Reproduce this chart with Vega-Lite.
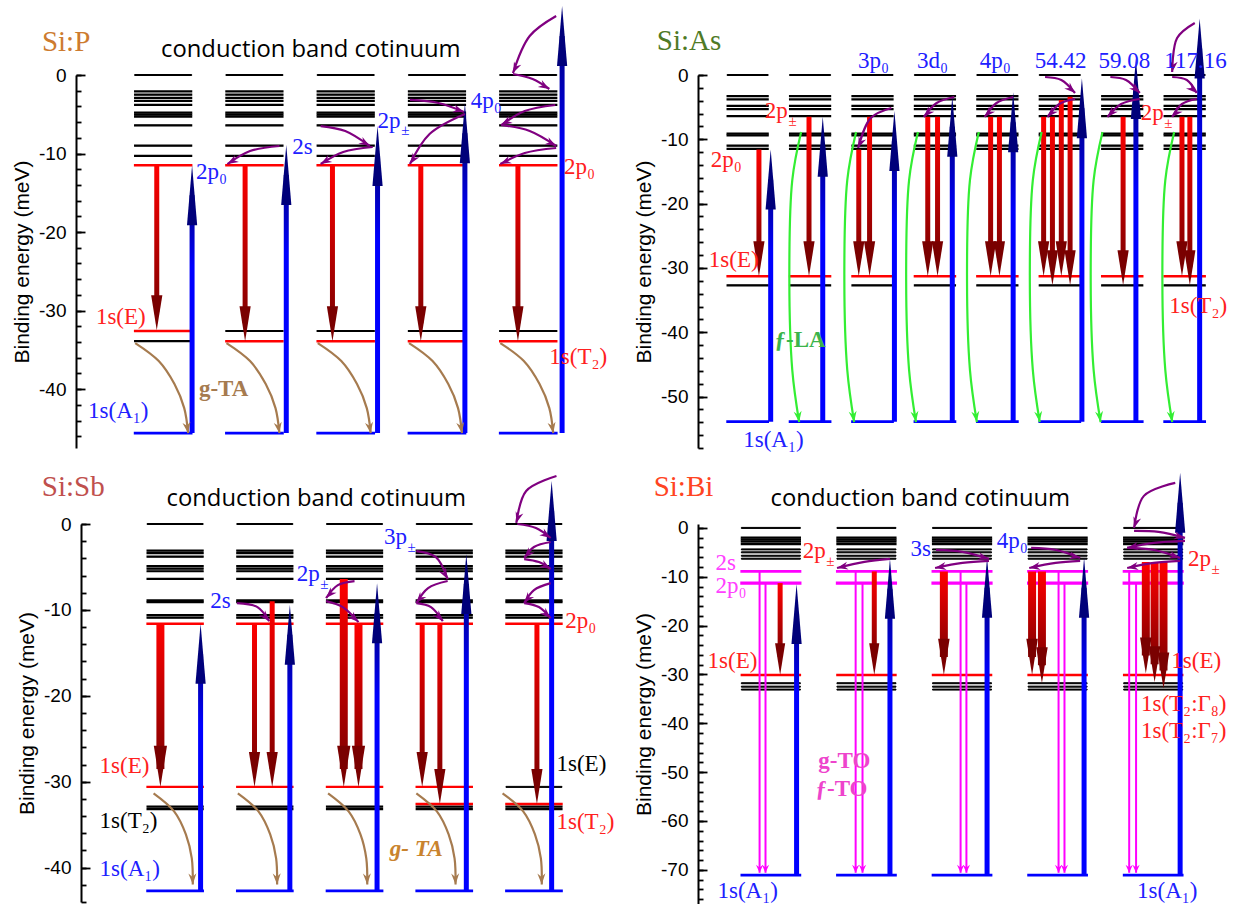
{
"$schema":"https://vega.github.io/schema/vega-lite/v6.json",
"background":"white",
"padding":{"left":11,"top":5,"right":0,"bottom":0},
"bounds":"flush",
"align":"none",
"columns":2,
"spacing":{"row":76,"column":107},
"config":{
 "view":{"stroke":null},
 "legend":{"disable":true},
 "axis":{"domainColor":"#000000","domainWidth":2,"tickColor":"#000000","tickWidth":1.8,"labelFont":"Liberation Sans","labelFontSize":19,"labelColor":"#000000","labelPadding":19,"titleFont":"Liberation Sans","titleFontSize":21,"titleFontWeight":"normal","titleColor":"#000000","titlePadding":6,"grid":false,"labelOverlap":false,"labelFlush":false,"labelBound":false}
},
"datasets":{
"levels":[
{"p":"P","e":0,"k":"top","c":[1,2,3,4,5]},
{"p":"P","e":-2.1,"k":"ex","c":[1,2,3,4,5]},
{"p":"P","e":-2.5,"k":"ex","c":[1,2,3,4,5]},
{"p":"P","e":-2.9,"k":"ex","c":[1,2,3,4,5]},
{"p":"P","e":-3.3,"k":"ex","c":[1,2,3,4,5]},
{"p":"P","e":-3.8,"k":"ex","c":[1,2,3,4,5]},
{"p":"P","e":-4.8,"k":"ex","c":[1,2,3,4,5]},
{"p":"P","e":-5.05,"k":"ex","c":[1,2,3,4,5]},
{"p":"P","e":-5.3,"k":"ex","c":[1,2,3,4,5]},
{"p":"P","e":-6.4,"k":"ex","c":[1,2,3,4,5]},
{"p":"P","e":-9.0,"k":"ex","c":[1,2,3,4,5]},
{"p":"P","e":-10.3,"k":"ex","c":[1,2,3,4,5]},
{"p":"P","e":-11.5,"k":"emit","c":[1,2,3,4,5]},
{"p":"P","e":-32.6,"k":"emit","c":[1]},
{"p":"P","e":-32.6,"k":"ex","c":[2,3,4,5]},
{"p":"P","e":-33.9,"k":"ex","c":[1]},
{"p":"P","e":-33.9,"k":"emit","c":[2,3,4,5]},
{"p":"P","e":-45.6,"k":"gnd","c":[1,2,3,4,5]},
{"p":"As","e":0,"k":"top","c":[1,2,3,4,5,6,7,8]},
{"p":"As","e":-3.3,"k":"ex","c":[1,2,3,4,5,6,7,8]},
{"p":"As","e":-3.8,"k":"ex","c":[1,2,3,4,5,6,7,8]},
{"p":"As","e":-4.8,"k":"ex","c":[1,2,3,4,5,6,7,8]},
{"p":"As","e":-5.3,"k":"ex","c":[1,2,3,4,5,6,7,8]},
{"p":"As","e":-6.4,"k":"ex","c":[1,2,3,4,5,6,7,8]},
{"p":"As","e":-9.1,"k":"ex","c":[1,2,3,4,5,6,7,8]},
{"p":"As","e":-9.4,"k":"ex","c":[1,2,3,4,5,6,7,8]},
{"p":"As","e":-11.0,"k":"ex","c":[1,2,3,4,5,6,7,8]},
{"p":"As","e":-11.5,"k":"ex","c":[1,2,3,4,5,6,7,8]},
{"p":"As","e":-31.3,"k":"emit","c":[1,2,3,4,5,6,7,8]},
{"p":"As","e":-32.7,"k":"ex","c":[1,2,3,4,5,6,7,8]},
{"p":"As","e":-53.9,"k":"gnd","c":[1,2,3,4,5,6,7,8]},
{"p":"Sb","e":0,"k":"top","c":[1,2,3,4,5]},
{"p":"Sb","e":-3.1,"k":"ex","c":[1,2,3,4,5]},
{"p":"Sb","e":-3.4,"k":"ex","c":[1,2,3,4,5]},
{"p":"Sb","e":-3.8,"k":"ex","c":[1,2,3,4,5]},
{"p":"Sb","e":-4.9,"k":"ex","c":[1,2,3,4,5]},
{"p":"Sb","e":-5.2,"k":"ex","c":[1,2,3,4,5]},
{"p":"Sb","e":-5.5,"k":"ex","c":[1,2,3,4,5]},
{"p":"Sb","e":-6.4,"k":"ex","c":[1,2,3,4,5]},
{"p":"Sb","e":-8.9,"k":"ex","c":[1,2,3,4,5]},
{"p":"Sb","e":-9.1,"k":"ex","c":[1,2,3,4,5]},
{"p":"Sb","e":-10.6,"k":"ex","c":[1,2,3,4,5]},
{"p":"Sb","e":-10.9,"k":"ex","c":[1,2,3,4,5]},
{"p":"Sb","e":-11.6,"k":"emit","c":[1,2,3,4,5]},
{"p":"Sb","e":-30.6,"k":"emit","c":[1,2,3,4]},
{"p":"Sb","e":-30.6,"k":"top","c":[5]},
{"p":"Sb","e":-32.9,"k":"ex","c":[1,2,3,4,5]},
{"p":"Sb","e":-33.2,"k":"ex","c":[1,2,3,4,5]},
{"p":"Sb","e":-32.6,"k":"emit","c":[4,5]},
{"p":"Sb","e":-42.7,"k":"gnd","c":[1,2,3,4,5]},
{"p":"Bi","e":0,"k":"top","c":[1,2,3,4,5]},
{"p":"Bi","e":-2.0,"k":"ex","c":[1,2,3,4,5]},
{"p":"Bi","e":-2.4,"k":"ex","c":[1,2,3,4,5]},
{"p":"Bi","e":-2.8,"k":"ex","c":[1,2,3,4,5]},
{"p":"Bi","e":-3.3,"k":"ex","c":[1,2,3,4,5]},
{"p":"Bi","e":-4.4,"k":"top","c":[1,2,3,4,5]},
{"p":"Bi","e":-5.0,"k":"top","c":[1,2,3,4,5]},
{"p":"Bi","e":-5.7,"k":"top","c":[1,2,3,4,5]},
{"p":"Bi","e":-6.3,"k":"top","c":[1,2,3,4,5]},
{"p":"Bi","e":-8.9,"k":"res2s","c":[1,2,3,4,5]},
{"p":"Bi","e":-11.3,"k":"res2p","c":[1,2,3,4,5]},
{"p":"Bi","e":-30.1,"k":"emit","c":[1,2,3,4,5]},
{"p":"Bi","e":-31.8,"k":"top","c":[1,2,3,4,5]},
{"p":"Bi","e":-32.5,"k":"top","c":[1,2,3,4,5]},
{"p":"Bi","e":-33.1,"k":"top","c":[1,2,3,4,5]},
{"p":"Bi","e":-71.1,"k":"gnd","c":[1,2,3,4,5]}
],
"arrows":[
{"p":"P","x":0.93,"y1":-11.5,"y2":-32.5,"t":"dn","w":"n"},
{"p":"P","x":1.317,"y1":-45.6,"y2":-11.5,"t":"up"},
{"p":"P","x":1.898,"y1":-11.5,"y2":-33.9,"t":"dn","w":"n"},
{"p":"P","x":2.349,"y1":-45.6,"y2":-8.9,"t":"up"},
{"p":"P","x":2.855,"y1":-11.5,"y2":-33.9,"t":"dn","w":"n"},
{"p":"P","x":3.349,"y1":-45.6,"y2":-6.5,"t":"up"},
{"p":"P","x":3.823,"y1":-11.5,"y2":-33.9,"t":"dn","w":"n"},
{"p":"P","x":4.306,"y1":-45.6,"y2":-3.6,"t":"up"},
{"p":"P","x":4.887,"y1":-11.5,"y2":-33.9,"t":"dn","w":"n"},
{"p":"P","x":5.371,"y1":-45.6,"y2":8.8,"t":"up"},
{"p":"As","x":1.181,"y1":-11.6,"y2":-31.3,"t":"dn","w":"n"},
{"p":"As","x":1.369,"y1":-53.9,"y2":-11.6,"t":"up"},
{"p":"As","x":1.983,"y1":-6.5,"y2":-31.3,"t":"dn","w":"n"},
{"p":"As","x":2.203,"y1":-53.9,"y2":-6.5,"t":"up"},
{"p":"As","x":2.78,"y1":-11.6,"y2":-31.3,"t":"dn","w":"n"},
{"p":"As","x":2.953,"y1":-6.5,"y2":-31.3,"t":"dn","w":"n"},
{"p":"As","x":3.351,"y1":-53.9,"y2":-5.6,"t":"up"},
{"p":"As","x":3.885,"y1":-6.5,"y2":-31.3,"t":"dn","w":"n"},
{"p":"As","x":4.042,"y1":-6.5,"y2":-31.3,"t":"dn","w":"n"},
{"p":"As","x":4.278,"y1":-53.9,"y2":-3.4,"t":"up"},
{"p":"As","x":4.892,"y1":-6.5,"y2":-31.3,"t":"dn","w":"n"},
{"p":"As","x":5.033,"y1":-6.5,"y2":-31.3,"t":"dn","w":"n"},
{"p":"As","x":5.253,"y1":-53.9,"y2":-2.7,"t":"up"},
{"p":"As","x":5.741,"y1":-6.5,"y2":-31.3,"t":"dn","w":"n"},
{"p":"As","x":5.882,"y1":-6.5,"y2":-32.7,"t":"dn","w":"n"},
{"p":"As","x":6.024,"y1":-3.9,"y2":-31.3,"t":"dn","w":"n"},
{"p":"As","x":6.165,"y1":-3.4,"y2":-32.7,"t":"dn","w":"n"},
{"p":"As","x":6.354,"y1":-53.9,"y2":-0.5,"t":"up"},
{"p":"As","x":7.014,"y1":-6.5,"y2":-32.7,"t":"dn","w":"n"},
{"p":"As","x":7.219,"y1":-53.9,"y2":2.5,"t":"up"},
{"p":"As","x":7.957,"y1":-6.5,"y2":-31.3,"t":"dn","w":"n"},
{"p":"As","x":8.083,"y1":-6.5,"y2":-32.7,"t":"dn","w":"n"},
{"p":"As","x":8.24,"y1":-53.9,"y2":8.8,"t":"up"},
{"p":"Sb","x":0.836,"y1":-11.6,"y2":-30.6,"t":"dn","w":"b"},
{"p":"Sb","x":1.284,"y1":-42.7,"y2":-11.6,"t":"up"},
{"p":"Sb","x":1.885,"y1":-11.6,"y2":-30.6,"t":"dn","w":"n"},
{"p":"Sb","x":2.082,"y1":-9.0,"y2":-30.6,"t":"dn","w":"n"},
{"p":"Sb","x":2.279,"y1":-42.7,"y2":-9.4,"t":"up"},
{"p":"Sb","x":2.88,"y1":-6.4,"y2":-30.6,"t":"dn","w":"b"},
{"p":"Sb","x":3.044,"y1":-11.6,"y2":-30.6,"t":"dn","w":"b"},
{"p":"Sb","x":3.251,"y1":-42.7,"y2":-6.9,"t":"up"},
{"p":"Sb","x":3.754,"y1":-11.6,"y2":-30.6,"t":"dn","w":"n"},
{"p":"Sb","x":3.951,"y1":-11.6,"y2":-32.6,"t":"dn","w":"n"},
{"p":"Sb","x":4.246,"y1":-42.7,"y2":-3.5,"t":"up"},
{"p":"Sb","x":5.033,"y1":-11.6,"y2":-32.6,"t":"dn","w":"n"},
{"p":"Sb","x":5.197,"y1":-42.7,"y2":5.0,"t":"up"},
{"p":"Bi","x":0.882,"y1":-8.9,"y2":-70.6,"t":"mg"},
{"p":"Bi","x":0.944,"y1":-11.3,"y2":-70.6,"t":"mg"},
{"p":"Bi","x":1.097,"y1":-11.3,"y2":-30.1,"t":"dn","w":"n"},
{"p":"Bi","x":1.269,"y1":-71.1,"y2":-11.5,"t":"up"},
{"p":"Bi","x":1.887,"y1":-8.9,"y2":-70.6,"t":"mg"},
{"p":"Bi","x":1.959,"y1":-11.3,"y2":-70.6,"t":"mg"},
{"p":"Bi","x":2.082,"y1":-8.9,"y2":-30.1,"t":"dn","w":"n"},
{"p":"Bi","x":2.246,"y1":-71.1,"y2":-6.3,"t":"up"},
{"p":"Bi","x":2.81,"y1":-8.9,"y2":-30.1,"t":"dn","w":"b"},
{"p":"Bi","x":2.985,"y1":-8.9,"y2":-70.6,"t":"mg"},
{"p":"Bi","x":3.046,"y1":-11.3,"y2":-70.6,"t":"mg"},
{"p":"Bi","x":3.262,"y1":-71.1,"y2":-6.1,"t":"up"},
{"p":"Bi","x":3.733,"y1":-8.9,"y2":-30.1,"t":"dn","w":"b"},
{"p":"Bi","x":3.836,"y1":-8.9,"y2":-31.8,"t":"dn","w":"b"},
{"p":"Bi","x":4.01,"y1":-8.9,"y2":-70.6,"t":"mg"},
{"p":"Bi","x":4.072,"y1":-11.3,"y2":-70.6,"t":"mg"},
{"p":"Bi","x":4.277,"y1":-71.1,"y2":-6.1,"t":"up"},
{"p":"Bi","x":4.749,"y1":-8.9,"y2":-70.6,"t":"mg"},
{"p":"Bi","x":4.821,"y1":-11.3,"y2":-70.6,"t":"mg"},
{"p":"Bi","x":4.923,"y1":-7.0,"y2":-29.8,"t":"dn","w":"b"},
{"p":"Bi","x":5.015,"y1":-7.0,"y2":-31.6,"t":"dn","w":"b"},
{"p":"Bi","x":5.108,"y1":-7.0,"y2":-32.9,"t":"dn","w":"b"},
{"p":"Bi","x":5.282,"y1":-71.1,"y2":11.3,"t":"up"}
],
"curves":[
{"p":"P","id":"b1","i":0,"x":0.694,"y":-34.14,"k":"br"},{"p":"P","id":"b1","i":1,"x":0.952,"y":-36.43,"k":"br"},{"p":"P","id":"b1","i":2,"x":1.124,"y":-39.36,"k":"br"},{"p":"P","id":"b1","i":3,"x":1.231,"y":-42.42,"k":"br"},{"p":"P","id":"b1","i":4,"x":1.274,"y":-45.61,"k":"br","a":171},
{"p":"P","id":"b2","i":0,"x":1.694,"y":-34.14,"k":"br"},{"p":"P","id":"b2","i":1,"x":1.952,"y":-36.43,"k":"br"},{"p":"P","id":"b2","i":2,"x":2.124,"y":-39.36,"k":"br"},{"p":"P","id":"b2","i":3,"x":2.231,"y":-42.42,"k":"br"},{"p":"P","id":"b2","i":4,"x":2.274,"y":-45.61,"k":"br","a":171},
{"p":"P","id":"b3","i":0,"x":2.694,"y":-34.14,"k":"br"},{"p":"P","id":"b3","i":1,"x":2.952,"y":-36.43,"k":"br"},{"p":"P","id":"b3","i":2,"x":3.124,"y":-39.36,"k":"br"},{"p":"P","id":"b3","i":3,"x":3.231,"y":-42.42,"k":"br"},{"p":"P","id":"b3","i":4,"x":3.274,"y":-45.61,"k":"br","a":171},
{"p":"P","id":"b4","i":0,"x":3.694,"y":-34.14,"k":"br"},{"p":"P","id":"b4","i":1,"x":3.952,"y":-36.43,"k":"br"},{"p":"P","id":"b4","i":2,"x":4.124,"y":-39.36,"k":"br"},{"p":"P","id":"b4","i":3,"x":4.231,"y":-42.42,"k":"br"},{"p":"P","id":"b4","i":4,"x":4.274,"y":-45.61,"k":"br","a":171},
{"p":"P","id":"b5","i":0,"x":4.694,"y":-34.14,"k":"br"},{"p":"P","id":"b5","i":1,"x":4.952,"y":-36.43,"k":"br"},{"p":"P","id":"b5","i":2,"x":5.124,"y":-39.36,"k":"br"},{"p":"P","id":"b5","i":3,"x":5.231,"y":-42.42,"k":"br"},{"p":"P","id":"b5","i":4,"x":5.274,"y":-45.61,"k":"br","a":171},
{"p":"P","id":"pa","i":0,"x":2.274,"y":-9.04,"k":"pu"},{"p":"P","id":"pa","i":1,"x":1.952,"y":-9.68,"k":"pu"},{"p":"P","id":"pa","i":2,"x":1.704,"y":-11.34,"k":"pu","a":240},
{"p":"P","id":"pb","i":0,"x":2.726,"y":-6.5,"k":"pu"},{"p":"P","id":"pb","i":1,"x":2.995,"y":-7.13,"k":"pu"},{"p":"P","id":"pb","i":2,"x":3.264,"y":-9.04,"k":"pu","a":121},
{"p":"P","id":"pc","i":0,"x":3.296,"y":-9.17,"k":"pu"},{"p":"P","id":"pc","i":1,"x":2.973,"y":-9.81,"k":"pu"},{"p":"P","id":"pc","i":2,"x":2.726,"y":-11.34,"k":"pu","a":240},
{"p":"P","id":"pd","i":0,"x":3.704,"y":-3.18,"k":"pu"},{"p":"P","id":"pd","i":1,"x":4.016,"y":-3.57,"k":"pu"},{"p":"P","id":"pd","i":2,"x":4.296,"y":-4.71,"k":"pu","a":109},
{"p":"P","id":"pe","i":0,"x":4.306,"y":-4.97,"k":"pu"},{"p":"P","id":"pe","i":1,"x":3.919,"y":-7.52,"k":"pu"},{"p":"P","id":"pe","i":2,"x":3.704,"y":-11.34,"k":"pu","a":214},
{"p":"P","id":"pf","i":0,"x":5.306,"y":7.52,"k":"pu"},{"p":"P","id":"pf","i":1,"x":5.016,"y":4.97,"k":"pu"},{"p":"P","id":"pf","i":2,"x":4.833,"y":0.25,"k":"pu","a":205},
{"p":"P","id":"pg","i":0,"x":4.833,"y":0.13,"k":"pu"},{"p":"P","id":"pg","i":1,"x":5.048,"y":-0.51,"k":"pu"},{"p":"P","id":"pg","i":2,"x":5.231,"y":-1.78,"k":"pu","a":120},
{"p":"P","id":"ph","i":0,"x":5.296,"y":-3.82,"k":"pu"},{"p":"P","id":"ph","i":1,"x":4.962,"y":-4.59,"k":"pu"},{"p":"P","id":"ph","i":2,"x":4.704,"y":-6.37,"k":"pu","a":240},
{"p":"P","id":"pi","i":0,"x":4.704,"y":-6.37,"k":"pu"},{"p":"P","id":"pi","i":1,"x":5.016,"y":-7.13,"k":"pu"},{"p":"P","id":"pi","i":2,"x":5.306,"y":-9.04,"k":"pu","a":119},
{"p":"P","id":"pj","i":0,"x":5.306,"y":-9.3,"k":"pu"},{"p":"P","id":"pj","i":1,"x":4.962,"y":-9.94,"k":"pu"},{"p":"P","id":"pj","i":2,"x":4.694,"y":-11.34,"k":"pu","a":246},
{"p":"As","id":"g2","i":0,"x":1.857,"y":-8.86,"k":"gr"},{"p":"As","id":"g2","i":1,"x":1.715,"y":-16.33,"k":"gr"},{"p":"As","id":"g2","i":2,"x":1.668,"y":-31.88,"k":"gr"},{"p":"As","id":"g2","i":3,"x":1.715,"y":-45.88,"k":"gr"},{"p":"As","id":"g2","i":4,"x":1.825,"y":-53.97,"k":"gr","a":172},
{"p":"As","id":"g3","i":0,"x":2.737,"y":-8.86,"k":"gr"},{"p":"As","id":"g3","i":1,"x":2.596,"y":-16.33,"k":"gr"},{"p":"As","id":"g3","i":2,"x":2.549,"y":-31.88,"k":"gr"},{"p":"As","id":"g3","i":3,"x":2.596,"y":-45.88,"k":"gr"},{"p":"As","id":"g3","i":4,"x":2.706,"y":-53.97,"k":"gr","a":172},
{"p":"As","id":"g4","i":0,"x":3.728,"y":-8.86,"k":"gr"},{"p":"As","id":"g4","i":1,"x":3.586,"y":-16.33,"k":"gr"},{"p":"As","id":"g4","i":2,"x":3.539,"y":-31.88,"k":"gr"},{"p":"As","id":"g4","i":3,"x":3.586,"y":-45.88,"k":"gr"},{"p":"As","id":"g4","i":4,"x":3.696,"y":-53.97,"k":"gr","a":172},
{"p":"As","id":"g5","i":0,"x":4.703,"y":-8.86,"k":"gr"},{"p":"As","id":"g5","i":1,"x":4.561,"y":-16.33,"k":"gr"},{"p":"As","id":"g5","i":2,"x":4.514,"y":-31.88,"k":"gr"},{"p":"As","id":"g5","i":3,"x":4.561,"y":-45.88,"k":"gr"},{"p":"As","id":"g5","i":4,"x":4.671,"y":-53.97,"k":"gr","a":172},
{"p":"As","id":"g6","i":0,"x":5.709,"y":-8.86,"k":"gr"},{"p":"As","id":"g6","i":1,"x":5.568,"y":-16.33,"k":"gr"},{"p":"As","id":"g6","i":2,"x":5.52,"y":-31.88,"k":"gr"},{"p":"As","id":"g6","i":3,"x":5.568,"y":-45.88,"k":"gr"},{"p":"As","id":"g6","i":4,"x":5.678,"y":-53.97,"k":"gr","a":172},
{"p":"As","id":"g7","i":0,"x":6.684,"y":-8.86,"k":"gr"},{"p":"As","id":"g7","i":1,"x":6.542,"y":-16.33,"k":"gr"},{"p":"As","id":"g7","i":2,"x":6.495,"y":-31.88,"k":"gr"},{"p":"As","id":"g7","i":3,"x":6.542,"y":-45.88,"k":"gr"},{"p":"As","id":"g7","i":4,"x":6.653,"y":-53.97,"k":"gr","a":172},
{"p":"As","id":"g8","i":0,"x":7.832,"y":-8.86,"k":"gr"},{"p":"As","id":"g8","i":1,"x":7.69,"y":-16.33,"k":"gr"},{"p":"As","id":"g8","i":2,"x":7.643,"y":-31.88,"k":"gr"},{"p":"As","id":"g8","i":3,"x":7.69,"y":-45.88,"k":"gr"},{"p":"As","id":"g8","i":4,"x":7.8,"y":-53.97,"k":"gr","a":172},
{"p":"As","id":"q3","i":0,"x":3.302,"y":-5.13,"k":"pu"},{"p":"As","id":"q3","i":1,"x":2.972,"y":-6.69,"k":"pu"},{"p":"As","id":"q3","i":2,"x":2.769,"y":-11.35,"k":"pu","a":203},
{"p":"As","id":"q4","i":0,"x":4.31,"y":-3.42,"k":"pu"},{"p":"As","id":"q4","i":1,"x":4.027,"y":-4.35,"k":"pu"},{"p":"As","id":"q4","i":2,"x":3.823,"y":-6.53,"k":"pu","a":223},
{"p":"As","id":"q5","i":0,"x":5.253,"y":-3.42,"k":"pu"},{"p":"As","id":"q5","i":1,"x":4.986,"y":-4.35,"k":"pu"},{"p":"As","id":"q5","i":2,"x":4.797,"y":-6.53,"k":"pu","a":223},
{"p":"As","id":"q6a","i":0,"x":5.764,"y":-0.31,"k":"pu"},{"p":"As","id":"q6a","i":1,"x":6.024,"y":-0.78,"k":"pu"},{"p":"As","id":"q6a","i":2,"x":6.244,"y":-2.8,"k":"pu","a":133},
{"p":"As","id":"q6b","i":0,"x":6.244,"y":-3.73,"k":"pu"},{"p":"As","id":"q6b","i":1,"x":5.992,"y":-4.51,"k":"pu"},{"p":"As","id":"q6b","i":2,"x":5.803,"y":-6.53,"k":"pu","a":223},
{"p":"As","id":"q7a","i":0,"x":6.81,"y":-0.31,"k":"pu"},{"p":"As","id":"q7a","i":1,"x":7.061,"y":-0.78,"k":"pu"},{"p":"As","id":"q7a","i":2,"x":7.281,"y":-2.8,"k":"pu","a":133},
{"p":"As","id":"q7b","i":0,"x":7.281,"y":-3.73,"k":"pu"},{"p":"As","id":"q7b","i":1,"x":6.983,"y":-4.51,"k":"pu"},{"p":"As","id":"q7b","i":2,"x":6.763,"y":-6.53,"k":"pu","a":223},
{"p":"As","id":"q8","i":0,"x":8.162,"y":8.09,"k":"pu"},{"p":"As","id":"q8","i":1,"x":7.879,"y":5.75,"k":"pu"},{"p":"As","id":"q8","i":2,"x":7.8,"y":0.47,"k":"pu","a":188},
{"p":"As","id":"q8a","i":0,"x":7.8,"y":-0.31,"k":"pu"},{"p":"As","id":"q8a","i":1,"x":8.035,"y":-0.78,"k":"pu"},{"p":"As","id":"q8a","i":2,"x":8.193,"y":-2.8,"k":"pu","a":133},
{"p":"As","id":"q8b","i":0,"x":8.193,"y":-3.73,"k":"pu"},{"p":"As","id":"q8b","i":1,"x":7.957,"y":-4.51,"k":"pu"},{"p":"As","id":"q8b","i":2,"x":7.8,"y":-6.53,"k":"pu","a":223},
{"p":"Sb","id":"s1","i":0,"x":0.76,"y":-31.35,"k":"br"},{"p":"Sb","id":"s1","i":1,"x":0.989,"y":-33.45,"k":"br"},{"p":"Sb","id":"s1","i":2,"x":1.12,"y":-36.13,"k":"br"},{"p":"Sb","id":"s1","i":3,"x":1.186,"y":-38.93,"k":"br"},{"p":"Sb","id":"s1","i":4,"x":1.197,"y":-41.96,"k":"br","a":178},
{"p":"Sb","id":"s2","i":0,"x":1.699,"y":-31.35,"k":"br"},{"p":"Sb","id":"s2","i":1,"x":1.929,"y":-33.45,"k":"br"},{"p":"Sb","id":"s2","i":2,"x":2.06,"y":-36.13,"k":"br"},{"p":"Sb","id":"s2","i":3,"x":2.126,"y":-38.93,"k":"br"},{"p":"Sb","id":"s2","i":4,"x":2.137,"y":-41.96,"k":"br","a":178},
{"p":"Sb","id":"s3","i":0,"x":2.705,"y":-31.35,"k":"br"},{"p":"Sb","id":"s3","i":1,"x":2.934,"y":-33.45,"k":"br"},{"p":"Sb","id":"s3","i":2,"x":3.066,"y":-36.13,"k":"br"},{"p":"Sb","id":"s3","i":3,"x":3.131,"y":-38.93,"k":"br"},{"p":"Sb","id":"s3","i":4,"x":3.142,"y":-41.96,"k":"br","a":178},
{"p":"Sb","id":"s4","i":0,"x":3.689,"y":-31.35,"k":"br"},{"p":"Sb","id":"s4","i":1,"x":3.918,"y":-33.45,"k":"br"},{"p":"Sb","id":"s4","i":2,"x":4.049,"y":-36.13,"k":"br"},{"p":"Sb","id":"s4","i":3,"x":4.115,"y":-38.93,"k":"br"},{"p":"Sb","id":"s4","i":4,"x":4.126,"y":-41.96,"k":"br","a":178},
{"p":"Sb","id":"s5","i":0,"x":4.65,"y":-31.35,"k":"br"},{"p":"Sb","id":"s5","i":1,"x":4.88,"y":-33.45,"k":"br"},{"p":"Sb","id":"s5","i":2,"x":5.011,"y":-36.13,"k":"br"},{"p":"Sb","id":"s5","i":3,"x":5.077,"y":-38.93,"k":"br"},{"p":"Sb","id":"s5","i":4,"x":5.087,"y":-41.96,"k":"br","a":178},
{"p":"Sb","id":"r2","i":0,"x":1.689,"y":-9.21,"k":"pu"},{"p":"Sb","id":"r2","i":1,"x":1.918,"y":-9.67,"k":"pu"},{"p":"Sb","id":"r2","i":2,"x":2.049,"y":-11.31,"k":"pu","a":139},
{"p":"Sb","id":"r3a","i":0,"x":3.0,"y":-6.64,"k":"pu"},{"p":"Sb","id":"r3a","i":1,"x":2.814,"y":-7.11,"k":"pu"},{"p":"Sb","id":"r3a","i":2,"x":2.683,"y":-8.62,"k":"pu","a":223},
{"p":"Sb","id":"r3b","i":0,"x":2.683,"y":-8.97,"k":"pu"},{"p":"Sb","id":"r3b","i":1,"x":2.869,"y":-9.67,"k":"pu"},{"p":"Sb","id":"r3b","i":2,"x":3.044,"y":-11.42,"k":"pu","a":133},
{"p":"Sb","id":"r4a","i":0,"x":3.689,"y":-3.15,"k":"pu"},{"p":"Sb","id":"r4a","i":1,"x":3.907,"y":-3.85,"k":"pu"},{"p":"Sb","id":"r4a","i":2,"x":4.038,"y":-6.41,"k":"pu","a":151},
{"p":"Sb","id":"r4b","i":0,"x":4.038,"y":-6.64,"k":"pu"},{"p":"Sb","id":"r4b","i":1,"x":3.82,"y":-7.46,"k":"pu"},{"p":"Sb","id":"r4b","i":2,"x":3.689,"y":-9.21,"k":"pu","a":219},
{"p":"Sb","id":"r4c","i":0,"x":3.689,"y":-9.21,"k":"pu"},{"p":"Sb","id":"r4c","i":1,"x":3.852,"y":-9.67,"k":"pu"},{"p":"Sb","id":"r4c","i":2,"x":3.984,"y":-11.31,"k":"pu","a":139},
{"p":"Sb","id":"r5a","i":0,"x":5.251,"y":5.59,"k":"pu"},{"p":"Sb","id":"r5a","i":1,"x":4.913,"y":3.85,"k":"pu"},{"p":"Sb","id":"r5a","i":2,"x":4.803,"y":0.12,"k":"pu","a":197},
{"p":"Sb","id":"r5b","i":0,"x":4.814,"y":0.0,"k":"pu"},{"p":"Sb","id":"r5b","i":1,"x":5.022,"y":-0.47,"k":"pu"},{"p":"Sb","id":"r5b","i":2,"x":5.186,"y":-1.63,"k":"pu","a":124},
{"p":"Sb","id":"r5c","i":0,"x":5.186,"y":-2.1,"k":"pu"},{"p":"Sb","id":"r5c","i":1,"x":5.0,"y":-2.68,"k":"pu"},{"p":"Sb","id":"r5c","i":2,"x":4.891,"y":-3.96,"k":"pu","a":222},
{"p":"Sb","id":"r5d","i":0,"x":4.891,"y":-4.08,"k":"pu"},{"p":"Sb","id":"r5d","i":1,"x":5.055,"y":-4.43,"k":"pu"},{"p":"Sb","id":"r5d","i":2,"x":5.186,"y":-5.24,"k":"pu","a":120},
{"p":"Sb","id":"r5e","i":0,"x":5.186,"y":-6.88,"k":"pu"},{"p":"Sb","id":"r5e","i":1,"x":5.0,"y":-7.69,"k":"pu"},{"p":"Sb","id":"r5e","i":2,"x":4.891,"y":-9.21,"k":"pu","a":218},
{"p":"Sb","id":"r5f","i":0,"x":4.891,"y":-9.21,"k":"pu"},{"p":"Sb","id":"r5f","i":1,"x":5.055,"y":-9.67,"k":"pu"},{"p":"Sb","id":"r5f","i":2,"x":5.186,"y":-10.96,"k":"pu","a":133},
{"p":"Bi","id":"t2","i":0,"x":2.246,"y":-6.35,"k":"pu"},{"p":"Bi","id":"t2","i":1,"x":1.979,"y":-6.97,"k":"pu"},{"p":"Bi","id":"t2","i":2,"x":1.692,"y":-8.2,"k":"pu","a":258},
{"p":"Bi","id":"t3a","i":0,"x":2.728,"y":-4.51,"k":"pu"},{"p":"Bi","id":"t3a","i":1,"x":3.005,"y":-4.92,"k":"pu"},{"p":"Bi","id":"t3a","i":2,"x":3.282,"y":-6.35,"k":"pu","a":105},
{"p":"Bi","id":"t3b","i":0,"x":3.282,"y":-6.76,"k":"pu"},{"p":"Bi","id":"t3b","i":1,"x":3.005,"y":-7.17,"k":"pu"},{"p":"Bi","id":"t3b","i":2,"x":2.718,"y":-8.2,"k":"pu","a":260},
{"p":"Bi","id":"t4a","i":0,"x":3.723,"y":-4.1,"k":"pu"},{"p":"Bi","id":"t4a","i":1,"x":3.979,"y":-4.51,"k":"pu"},{"p":"Bi","id":"t4a","i":2,"x":4.236,"y":-6.15,"k":"pu","a":104},
{"p":"Bi","id":"t4b","i":0,"x":4.236,"y":-6.76,"k":"pu"},{"p":"Bi","id":"t4b","i":1,"x":3.979,"y":-7.17,"k":"pu"},{"p":"Bi","id":"t4b","i":2,"x":3.703,"y":-8.2,"k":"pu","a":260},
{"p":"Bi","id":"t5a","i":0,"x":5.231,"y":9.22,"k":"pu"},{"p":"Bi","id":"t5a","i":1,"x":4.903,"y":6.56,"k":"pu"},{"p":"Bi","id":"t5a","i":2,"x":4.8,"y":0.0,"k":"pu","a":197},
{"p":"Bi","id":"t5b","i":0,"x":4.8,"y":-0.61,"k":"pu"},{"p":"Bi","id":"t5b","i":1,"x":5.056,"y":-0.82,"k":"pu"},{"p":"Bi","id":"t5b","i":2,"x":5.333,"y":-2.05,"k":"pu","a":103},
{"p":"Bi","id":"t5c","i":0,"x":5.333,"y":-2.66,"k":"pu"},{"p":"Bi","id":"t5c","i":1,"x":5.005,"y":-3.07,"k":"pu"},{"p":"Bi","id":"t5c","i":2,"x":4.728,"y":-4.1,"k":"pu","a":260},
{"p":"Bi","id":"t5d","i":0,"x":4.728,"y":-4.1,"k":"pu"},{"p":"Bi","id":"t5d","i":1,"x":5.005,"y":-4.51,"k":"pu"},{"p":"Bi","id":"t5d","i":2,"x":5.282,"y":-6.15,"k":"pu","a":107},
{"p":"Bi","id":"t5e","i":0,"x":5.282,"y":-6.76,"k":"pu"},{"p":"Bi","id":"t5e","i":1,"x":5.005,"y":-7.17,"k":"pu"},{"p":"Bi","id":"t5e","i":2,"x":4.728,"y":-8.2,"k":"pu","a":260}
],
"labels":[
{"p":"P","x":-0.328,"y":3.06,"t":"Si:P","k":"tP","s":"title"},
{"p":"P","x":2.618,"y":2.29,"t":"conduction band cotinuum","k":"bk","s":"sans"},
{"p":"P","x":1.36,"y":-13.25,"t":"2p₀","k":"bl","s":"lab"},
{"p":"P","x":2.414,"y":-10.06,"t":"2s","k":"bl","s":"lab"},
{"p":"P","x":3.349,"y":-6.75,"t":"2p","k":"bl","s":"lab"},
{"p":"P","x":3.608,"y":-7.64,"t":"±","k":"bl","s":"sub"},
{"p":"P","x":4.371,"y":-4.2,"t":"4p₀","k":"bl","s":"lab"},
{"p":"P","x":5.392,"y":-12.61,"t":"2p₀","k":"rd","s":"lab"},
{"p":"P","x":5.231,"y":-36.82,"t":"1s(T₂)","k":"rd","s":"lab"},
{"p":"P","x":0.263,"y":-31.72,"t":"1s(E)","k":"rd","s":"lab"},
{"p":"P","x":0.177,"y":-43.69,"t":"1s(A₁)","k":"bl","s":"lab"},
{"p":"P","x":1.392,"y":-40.89,"t":"g-TA","k":"br","s":"bold"},
{"p":"As","x":-0.454,"y":3.89,"t":"Si:As","k":"tAs","s":"title"},
{"p":"As","x":2.769,"y":1.09,"t":"3p₀","k":"bl","s":"lab"},
{"p":"As","x":3.712,"y":1.09,"t":"3d₀","k":"bl","s":"lab"},
{"p":"As","x":4.719,"y":1.09,"t":"4p₀","k":"bl","s":"lab"},
{"p":"As","x":5.599,"y":1.09,"t":"54.42","k":"bl","s":"lab"},
{"p":"As","x":6.621,"y":1.09,"t":"59.08","k":"bl","s":"lab"},
{"p":"As","x":7.675,"y":1.09,"t":"117.16","k":"bl","s":"lab"},
{"p":"As","x":1.275,"y":-6.69,"t":"2p","k":"rd","s":"lab"},
{"p":"As","x":1.653,"y":-7.93,"t":"±","k":"rd","s":"sub"},
{"p":"As","x":0.41,"y":-14.31,"t":"2p₀","k":"rd","s":"lab"},
{"p":"As","x":0.379,"y":-29.86,"t":"1s(E)","k":"rd","s":"lab"},
{"p":"As","x":7.753,"y":-37.01,"t":"1s(T₂)","k":"rd","s":"lab"},
{"p":"As","x":7.297,"y":-7.0,"t":"2p","k":"rd","s":"lab"},
{"p":"As","x":7.675,"y":-8.24,"t":"±","k":"rd","s":"sub"},
{"p":"As","x":1.432,"y":-42.3,"t":"ƒ-LA","k":"gt","s":"bold"},
{"p":"As","x":0.929,"y":-57.85,"t":"1s(A₁)","k":"bl","s":"lab"},
{"p":"Sb","x":-0.486,"y":3.26,"t":"Si:Sb","k":"tSb","s":"title"},
{"p":"Sb","x":2.574,"y":2.1,"t":"conduction band cotinuum","k":"bk","s":"sans"},
{"p":"Sb","x":1.393,"y":-9.79,"t":"2s","k":"bl","s":"lab"},
{"p":"Sb","x":2.355,"y":-6.64,"t":"2p","k":"bl","s":"lab"},
{"p":"Sb","x":2.617,"y":-7.58,"t":"±","k":"bl","s":"sub"},
{"p":"Sb","x":3.328,"y":-2.33,"t":"3p","k":"bl","s":"lab"},
{"p":"Sb","x":3.59,"y":-3.26,"t":"±","k":"bl","s":"sub"},
{"p":"Sb","x":5.35,"y":-12.12,"t":"2p₀","k":"rd","s":"lab"},
{"p":"Sb","x":5.251,"y":-28.79,"t":"1s(E)","k":"bk","s":"lab"},
{"p":"Sb","x":5.251,"y":-35.55,"t":"1s(T₂)","k":"rd","s":"lab"},
{"p":"Sb","x":0.158,"y":-29.02,"t":"1s(E)","k":"rd","s":"lab"},
{"p":"Sb","x":0.158,"y":-35.43,"t":"1s(T₂)","k":"bk","s":"lab"},
{"p":"Sb","x":0.158,"y":-41.03,"t":"1s(A₁)","k":"bl","s":"lab"},
{"p":"Sb","x":3.393,"y":-38.69,"t":"g- TA","k":"or","s":"bold"},
{"p":"Bi","x":-0.226,"y":6.56,"t":"Si:Bi","k":"tBi","s":"title"},
{"p":"Bi","x":2.564,"y":4.51,"t":"conduction band cotinuum","k":"bk","s":"sans"},
{"p":"Bi","x":0.421,"y":-8.6,"t":"2s","k":"mg","s":"lab"},
{"p":"Bi","x":0.421,"y":-13.3,"t":"2p₀","k":"mg","s":"lab"},
{"p":"Bi","x":0.338,"y":-28.69,"t":"1s(E)","k":"rd","s":"lab"},
{"p":"Bi","x":0.441,"y":-75.82,"t":"1s(A₁)","k":"bl","s":"lab"},
{"p":"Bi","x":1.333,"y":-6.15,"t":"2p","k":"rd","s":"lab"},
{"p":"Bi","x":1.579,"y":-7.79,"t":"±","k":"rd","s":"sub"},
{"p":"Bi","x":2.462,"y":-5.74,"t":"3s","k":"bl","s":"lab"},
{"p":"Bi","x":3.364,"y":-4.1,"t":"4p₀","k":"bl","s":"lab"},
{"p":"Bi","x":5.364,"y":-7.79,"t":"2p","k":"rd","s":"lab"},
{"p":"Bi","x":5.61,"y":-9.43,"t":"±","k":"rd","s":"sub"},
{"p":"Bi","x":5.19,"y":-28.69,"t":"1s(E)","k":"rd","s":"lab"},
{"p":"Bi","x":4.872,"y":-37.5,"t":"1s(T₂:Γ₈)","k":"rd","s":"lab"},
{"p":"Bi","x":4.872,"y":-43.03,"t":"1s(T₂:Γ₇)","k":"rd","s":"lab"},
{"p":"Bi","x":4.831,"y":-75.82,"t":"1s(A₁)","k":"bl","s":"lab"},
{"p":"Bi","x":1.497,"y":-49.18,"t":"g-TO","k":"mt","s":"bold"},
{"p":"Bi","x":1.467,"y":-54.92,"t":"ƒ-TO","k":"mt","s":"bold"}
]
},
"concat":[
{"width":512,"height":373,"resolve":{"scale":{"size":"independent"},"axis":{"y":"independent"}},"layer":[
{"data":{"name":"levels"},"transform":[{"filter":"datum.p==='P'"},{"flatten":["c"]}],"mark":{"type":"tick","orient":"horizontal","size":57,"thickness":1,"opacity":1},
 "encoding":{"x":{"field":"c","type":"quantitative","scale":{"domain":[0.1,5.6],"nice":false,"zero":false},"axis":null},
 "y":{"field":"e","type":"quantitative","scale":{"domain":[-47.5,0],"nice":false,"zero":false},"axis":{"values":[0,-10,-20,-30,-40],"title":"Binding energy (meV)","labelExpr":"datum.value < 0 ? '-' + abs(datum.value) : '0'","tickSize":-9,"labelOverlap":false}},
 "color":{"field":"k","type":"nominal","scale":{"domain":["top","ex","emit","gnd","res2s","res2p","bl","rd","bk","mg","br","gr","or","pu","tP","tAs","tSb","tBi","gt","mt"],"range":["#000000","#000000","#ff0000","#0000ff","#ff00ff","#ff00ff","#2020ff","#ff2020","#000000","#ff40ff","#a67b4f","#33ee33","#c9832e","#800080","#cd7b2f","#4f7a26","#c0504d","#ff4422","#3cb44b","#ee44cc"]}},
 "stroke":{"field":"k","type":"nominal","scale":{"domain":["top","ex","emit","gnd","res2s","res2p"],"range":["#000000","#000000","#ff0000","#0000ff","#ff00ff","#ff00ff"]}},
 "strokeWidth":{"field":"k","type":"ordinal","scale":{"domain":["top","ex","emit","gnd","res2s","res2p"],"range":[1,2.2,1.5,2,3,5]}}}},
{"data":{"name":"arrows"},"transform":[{"filter":"datum.p==='P' && datum.t==='dn'"}],"mark":{"type":"bar","y2Offset":-18,"fill":{"gradient":"linear","x1":0,"y1":0,"x2":0,"y2":1,"stops":[{"offset":0,"color":"#ff0000"},{"offset":1,"color":"#800000"}]}},
 "encoding":{"x":{"field":"x","type":"quantitative","axis":null},"y":{"field":"y1","type":"quantitative","axis":null},"y2":{"field":"y2"},"size":{"field":"w","type":"ordinal","scale":{"domain":["n","b"],"range":[5,8]}}}},
{"data":{"name":"arrows"},"transform":[{"filter":"datum.p==='P' && datum.t==='dn'"}],"mark":{"type":"point","filled":true,"opacity":1,"shape":"M0,0L-0.32,-2L0.32,-2Z","fill":"#7a0000","strokeWidth":0},
 "encoding":{"x":{"field":"x","type":"quantitative","axis":null},"y":{"field":"y2","type":"quantitative","axis":null},"size":{"field":"w","type":"ordinal","scale":{"domain":["n","b"],"range":[1225,1700]}}}},
{"data":{"name":"arrows"},"transform":[{"filter":"datum.p==='P' && datum.t==='up'"}],"mark":{"type":"bar","width":5,"y2Offset":30,"fill":{"gradient":"linear","x1":0,"y1":0,"x2":0,"y2":1,"stops":[{"offset":0,"color":"#000080"},{"offset":0.3,"color":"#0000ff"},{"offset":1,"color":"#0000ff"}]}},
 "encoding":{"x":{"field":"x","type":"quantitative","axis":null},"y":{"field":"y1","type":"quantitative","axis":null},"y2":{"field":"y2"}}},
{"data":{"name":"arrows"},"transform":[{"filter":"datum.p==='P' && datum.t==='up'"}],"mark":{"type":"point","filled":true,"opacity":1,"shape":"M0,0L-0.17,2L0.17,2Z","fill":"#00007a","strokeWidth":0,"size":3600},
 "encoding":{"x":{"field":"x","type":"quantitative","axis":null},"y":{"field":"y2","type":"quantitative","axis":{"orient":"right","offset":-512,"values":[0,-2,-4,-6,-8,-10,-12,-14,-16,-18,-20,-22,-24,-26,-28,-30,-32,-34,-36,-38,-40,-42,-44,-46],"labels":false,"domain":false,"ticks":true,"tickSize":5,"title":null}}}},
{"data":{"name":"curves"},"transform":[{"filter":"datum.p==='P'"}],"mark":{"type":"line","interpolate":"catmull-rom","strokeWidth":2.2},
 "encoding":{"x":{"field":"x","type":"quantitative","axis":null},"y":{"field":"y","type":"quantitative","axis":null},"detail":{"field":"id"},"order":{"field":"i","type":"quantitative"},
 "color":{"field":"k","type":"nominal","scale":{"domain":["top","ex","emit","gnd","res2s","res2p","bl","rd","bk","mg","br","gr","or","pu","tP","tAs","tSb","tBi","gt","mt"],"range":["#000000","#000000","#ff0000","#0000ff","#ff00ff","#ff00ff","#2020ff","#ff2020","#000000","#ff40ff","#a67b4f","#33ee33","#c9832e","#800080","#cd7b2f","#4f7a26","#c0504d","#ff4422","#3cb44b","#ee44cc"]}}}},
{"data":{"name":"curves"},"transform":[{"filter":"datum.p==='P' && isValid(datum.a)"}],"mark":{"type":"point","filled":true,"opacity":1,"shape":"M0,0L-0.8,2.2L0,1.5L0.8,2.2Z","size":100,"strokeWidth":0},
 "encoding":{"x":{"field":"x","type":"quantitative","axis":null},"y":{"field":"y","type":"quantitative","axis":null},"angle":{"field":"a","type":"quantitative","scale":{"domain":[0,360],"range":[0,360]}},
 "color":{"field":"k","type":"nominal","scale":{"domain":["top","ex","emit","gnd","res2s","res2p","bl","rd","bk","mg","br","gr","or","pu","tP","tAs","tSb","tBi","gt","mt"],"range":["#000000","#000000","#ff0000","#0000ff","#ff00ff","#ff00ff","#2020ff","#ff2020","#000000","#ff40ff","#a67b4f","#33ee33","#c9832e","#800080","#cd7b2f","#4f7a26","#c0504d","#ff4422","#3cb44b","#ee44cc"]}}}},
{"data":{"name":"labels"},"transform":[{"filter":"datum.p==='P' && datum.s==='lab'"}],"mark":{"type":"text","align":"left","baseline":"alphabetic","font":"Liberation Serif","fontSize":23},
 "encoding":{"x":{"field":"x","type":"quantitative","axis":null},"y":{"field":"y","type":"quantitative","axis":null},"text":{"field":"t"},
 "color":{"field":"k","type":"nominal","scale":{"domain":["top","ex","emit","gnd","res2s","res2p","bl","rd","bk","mg","br","gr","or","pu","tP","tAs","tSb","tBi","gt","mt"],"range":["#000000","#000000","#ff0000","#0000ff","#ff00ff","#ff00ff","#2020ff","#ff2020","#000000","#ff40ff","#a67b4f","#33ee33","#c9832e","#800080","#cd7b2f","#4f7a26","#c0504d","#ff4422","#3cb44b","#ee44cc"]}}}},
{"data":{"name":"labels"},"transform":[{"filter":"datum.p==='P' && datum.s==='sub'"}],"mark":{"type":"text","align":"left","baseline":"alphabetic","font":"Liberation Serif","fontSize":15},
 "encoding":{"x":{"field":"x","type":"quantitative","axis":null},"y":{"field":"y","type":"quantitative","axis":null},"text":{"field":"t"},
 "color":{"field":"k","type":"nominal","scale":{"domain":["top","ex","emit","gnd","res2s","res2p","bl","rd","bk","mg","br","gr","or","pu","tP","tAs","tSb","tBi","gt","mt"],"range":["#000000","#000000","#ff0000","#0000ff","#ff00ff","#ff00ff","#2020ff","#ff2020","#000000","#ff40ff","#a67b4f","#33ee33","#c9832e","#800080","#cd7b2f","#4f7a26","#c0504d","#ff4422","#3cb44b","#ee44cc"]}}}},
{"data":{"name":"labels"},"transform":[{"filter":"datum.p==='P' && datum.s==='bold'"}],"mark":{"type":"text","align":"left","baseline":"alphabetic","font":"Liberation Serif","fontSize":23,"fontWeight":"bold"},
 "encoding":{"x":{"field":"x","type":"quantitative","axis":null},"y":{"field":"y","type":"quantitative","axis":null},"text":{"field":"t"},
 "color":{"field":"k","type":"nominal","scale":{"domain":["top","ex","emit","gnd","res2s","res2p","bl","rd","bk","mg","br","gr","or","pu","tP","tAs","tSb","tBi","gt","mt"],"range":["#000000","#000000","#ff0000","#0000ff","#ff00ff","#ff00ff","#2020ff","#ff2020","#000000","#ff40ff","#a67b4f","#33ee33","#c9832e","#800080","#cd7b2f","#4f7a26","#c0504d","#ff4422","#3cb44b","#ee44cc"]}}}},
{"data":{"name":"labels"},"transform":[{"filter":"datum.p==='P' && datum.s==='title'"}],"mark":{"type":"text","align":"left","baseline":"alphabetic","font":"Liberation Serif","fontSize":29},
 "encoding":{"x":{"field":"x","type":"quantitative","axis":null},"y":{"field":"y","type":"quantitative","axis":null},"text":{"field":"t"},
 "color":{"field":"k","type":"nominal","scale":{"domain":["top","ex","emit","gnd","res2s","res2p","bl","rd","bk","mg","br","gr","or","pu","tP","tAs","tSb","tBi","gt","mt"],"range":["#000000","#000000","#ff0000","#0000ff","#ff00ff","#ff00ff","#2020ff","#ff2020","#000000","#ff40ff","#a67b4f","#33ee33","#c9832e","#800080","#cd7b2f","#4f7a26","#c0504d","#ff4422","#3cb44b","#ee44cc"]}}}},
{"data":{"name":"labels"},"transform":[{"filter":"datum.p==='P' && datum.s==='sans'"}],"mark":{"type":"text","align":"center","baseline":"alphabetic","font":"Open Sans","fontSize":23.8,"color":"#000000"},
 "encoding":{"x":{"field":"x","type":"quantitative","axis":null},"y":{"field":"y","type":"quantitative","axis":null},"text":{"field":"t"}}}
]},
{"width":526,"height":373,"resolve":{"scale":{"size":"independent"},"axis":{"y":"independent"}},"layer":[
{"data":{"name":"levels"},"transform":[{"filter":"datum.p==='As'"},{"flatten":["c"]}],"mark":{"type":"tick","orient":"horizontal","size":41,"thickness":1,"opacity":1},
 "encoding":{"x":{"field":"c","type":"quantitative","scale":{"domain":[0.285,8.55],"nice":false,"zero":false},"axis":null},
 "y":{"field":"e","type":"quantitative","scale":{"domain":[-58,0],"nice":false,"zero":false},"axis":{"values":[0,-10,-20,-30,-40,-50],"title":"Binding energy (meV)","labelExpr":"datum.value < 0 ? '-' + abs(datum.value) : '0'","tickSize":-9,"labelOverlap":false}},
 "color":{"field":"k","type":"nominal","scale":{"domain":["top","ex","emit","gnd","res2s","res2p","bl","rd","bk","mg","br","gr","or","pu","tP","tAs","tSb","tBi","gt","mt"],"range":["#000000","#000000","#ff0000","#0000ff","#ff00ff","#ff00ff","#2020ff","#ff2020","#000000","#ff40ff","#a67b4f","#33ee33","#c9832e","#800080","#cd7b2f","#4f7a26","#c0504d","#ff4422","#3cb44b","#ee44cc"]}},
 "stroke":{"field":"k","type":"nominal","scale":{"domain":["top","ex","emit","gnd","res2s","res2p"],"range":["#000000","#000000","#ff0000","#0000ff","#ff00ff","#ff00ff"]}},
 "strokeWidth":{"field":"k","type":"ordinal","scale":{"domain":["top","ex","emit","gnd","res2s","res2p"],"range":[1,2.2,1.5,2,3,5]}}}},
{"data":{"name":"arrows"},"transform":[{"filter":"datum.p==='As' && datum.t==='dn'"}],"mark":{"type":"bar","y2Offset":-18,"fill":{"gradient":"linear","x1":0,"y1":0,"x2":0,"y2":1,"stops":[{"offset":0,"color":"#ff0000"},{"offset":1,"color":"#800000"}]}},
 "encoding":{"x":{"field":"x","type":"quantitative","axis":null},"y":{"field":"y1","type":"quantitative","axis":null},"y2":{"field":"y2"},"size":{"field":"w","type":"ordinal","scale":{"domain":["n","b"],"range":[5,8]}}}},
{"data":{"name":"arrows"},"transform":[{"filter":"datum.p==='As' && datum.t==='dn'"}],"mark":{"type":"point","filled":true,"opacity":1,"shape":"M0,0L-0.32,-2L0.32,-2Z","fill":"#7a0000","strokeWidth":0},
 "encoding":{"x":{"field":"x","type":"quantitative","axis":null},"y":{"field":"y2","type":"quantitative","axis":null},"size":{"field":"w","type":"ordinal","scale":{"domain":["n","b"],"range":[1225,1700]}}}},
{"data":{"name":"arrows"},"transform":[{"filter":"datum.p==='As' && datum.t==='up'"}],"mark":{"type":"bar","width":5,"y2Offset":30,"fill":{"gradient":"linear","x1":0,"y1":0,"x2":0,"y2":1,"stops":[{"offset":0,"color":"#000080"},{"offset":0.3,"color":"#0000ff"},{"offset":1,"color":"#0000ff"}]}},
 "encoding":{"x":{"field":"x","type":"quantitative","axis":null},"y":{"field":"y1","type":"quantitative","axis":null},"y2":{"field":"y2"}}},
{"data":{"name":"arrows"},"transform":[{"filter":"datum.p==='As' && datum.t==='up'"}],"mark":{"type":"point","filled":true,"opacity":1,"shape":"M0,0L-0.17,2L0.17,2Z","fill":"#00007a","strokeWidth":0,"size":3600},
 "encoding":{"x":{"field":"x","type":"quantitative","axis":null},"y":{"field":"y2","type":"quantitative","axis":{"orient":"right","offset":-526,"values":[0,-2,-4,-6,-8,-10,-12,-14,-16,-18,-20,-22,-24,-26,-28,-30,-32,-34,-36,-38,-40,-42,-44,-46,-48,-50,-52,-54,-56,-58],"labels":false,"domain":false,"ticks":true,"tickSize":5,"title":null}}}},
{"data":{"name":"curves"},"transform":[{"filter":"datum.p==='As'"}],"mark":{"type":"line","interpolate":"catmull-rom","strokeWidth":2.2},
 "encoding":{"x":{"field":"x","type":"quantitative","axis":null},"y":{"field":"y","type":"quantitative","axis":null},"detail":{"field":"id"},"order":{"field":"i","type":"quantitative"},
 "color":{"field":"k","type":"nominal","scale":{"domain":["top","ex","emit","gnd","res2s","res2p","bl","rd","bk","mg","br","gr","or","pu","tP","tAs","tSb","tBi","gt","mt"],"range":["#000000","#000000","#ff0000","#0000ff","#ff00ff","#ff00ff","#2020ff","#ff2020","#000000","#ff40ff","#a67b4f","#33ee33","#c9832e","#800080","#cd7b2f","#4f7a26","#c0504d","#ff4422","#3cb44b","#ee44cc"]}}}},
{"data":{"name":"curves"},"transform":[{"filter":"datum.p==='As' && isValid(datum.a)"}],"mark":{"type":"point","filled":true,"opacity":1,"shape":"M0,0L-0.8,2.2L0,1.5L0.8,2.2Z","size":100,"strokeWidth":0},
 "encoding":{"x":{"field":"x","type":"quantitative","axis":null},"y":{"field":"y","type":"quantitative","axis":null},"angle":{"field":"a","type":"quantitative","scale":{"domain":[0,360],"range":[0,360]}},
 "color":{"field":"k","type":"nominal","scale":{"domain":["top","ex","emit","gnd","res2s","res2p","bl","rd","bk","mg","br","gr","or","pu","tP","tAs","tSb","tBi","gt","mt"],"range":["#000000","#000000","#ff0000","#0000ff","#ff00ff","#ff00ff","#2020ff","#ff2020","#000000","#ff40ff","#a67b4f","#33ee33","#c9832e","#800080","#cd7b2f","#4f7a26","#c0504d","#ff4422","#3cb44b","#ee44cc"]}}}},
{"data":{"name":"labels"},"transform":[{"filter":"datum.p==='As' && datum.s==='lab'"}],"mark":{"type":"text","align":"left","baseline":"alphabetic","font":"Liberation Serif","fontSize":23},
 "encoding":{"x":{"field":"x","type":"quantitative","axis":null},"y":{"field":"y","type":"quantitative","axis":null},"text":{"field":"t"},
 "color":{"field":"k","type":"nominal","scale":{"domain":["top","ex","emit","gnd","res2s","res2p","bl","rd","bk","mg","br","gr","or","pu","tP","tAs","tSb","tBi","gt","mt"],"range":["#000000","#000000","#ff0000","#0000ff","#ff00ff","#ff00ff","#2020ff","#ff2020","#000000","#ff40ff","#a67b4f","#33ee33","#c9832e","#800080","#cd7b2f","#4f7a26","#c0504d","#ff4422","#3cb44b","#ee44cc"]}}}},
{"data":{"name":"labels"},"transform":[{"filter":"datum.p==='As' && datum.s==='sub'"}],"mark":{"type":"text","align":"left","baseline":"alphabetic","font":"Liberation Serif","fontSize":15},
 "encoding":{"x":{"field":"x","type":"quantitative","axis":null},"y":{"field":"y","type":"quantitative","axis":null},"text":{"field":"t"},
 "color":{"field":"k","type":"nominal","scale":{"domain":["top","ex","emit","gnd","res2s","res2p","bl","rd","bk","mg","br","gr","or","pu","tP","tAs","tSb","tBi","gt","mt"],"range":["#000000","#000000","#ff0000","#0000ff","#ff00ff","#ff00ff","#2020ff","#ff2020","#000000","#ff40ff","#a67b4f","#33ee33","#c9832e","#800080","#cd7b2f","#4f7a26","#c0504d","#ff4422","#3cb44b","#ee44cc"]}}}},
{"data":{"name":"labels"},"transform":[{"filter":"datum.p==='As' && datum.s==='bold'"}],"mark":{"type":"text","align":"left","baseline":"alphabetic","font":"Liberation Serif","fontSize":23,"fontWeight":"bold"},
 "encoding":{"x":{"field":"x","type":"quantitative","axis":null},"y":{"field":"y","type":"quantitative","axis":null},"text":{"field":"t"},
 "color":{"field":"k","type":"nominal","scale":{"domain":["top","ex","emit","gnd","res2s","res2p","bl","rd","bk","mg","br","gr","or","pu","tP","tAs","tSb","tBi","gt","mt"],"range":["#000000","#000000","#ff0000","#0000ff","#ff00ff","#ff00ff","#2020ff","#ff2020","#000000","#ff40ff","#a67b4f","#33ee33","#c9832e","#800080","#cd7b2f","#4f7a26","#c0504d","#ff4422","#3cb44b","#ee44cc"]}}}},
{"data":{"name":"labels"},"transform":[{"filter":"datum.p==='As' && datum.s==='title'"}],"mark":{"type":"text","align":"left","baseline":"alphabetic","font":"Liberation Serif","fontSize":29},
 "encoding":{"x":{"field":"x","type":"quantitative","axis":null},"y":{"field":"y","type":"quantitative","axis":null},"text":{"field":"t"},
 "color":{"field":"k","type":"nominal","scale":{"domain":["top","ex","emit","gnd","res2s","res2p","bl","rd","bk","mg","br","gr","or","pu","tP","tAs","tSb","tBi","gt","mt"],"range":["#000000","#000000","#ff0000","#0000ff","#ff00ff","#ff00ff","#2020ff","#ff2020","#000000","#ff40ff","#a67b4f","#33ee33","#c9832e","#800080","#cd7b2f","#4f7a26","#c0504d","#ff4422","#3cb44b","#ee44cc"]}}}}
]},
{"width":515,"height":378,"resolve":{"scale":{"size":"independent"},"axis":{"y":"independent"}},"layer":[
{"data":{"name":"levels"},"transform":[{"filter":"datum.p==='Sb'"},{"flatten":["c"]}],"mark":{"type":"tick","orient":"horizontal","size":56,"thickness":1,"opacity":1},
 "encoding":{"x":{"field":"c","type":"quantitative","scale":{"domain":[-0.049,5.58],"nice":false,"zero":false},"axis":null},
 "y":{"field":"e","type":"quantitative","scale":{"domain":[-44,0],"nice":false,"zero":false},"axis":{"offset":-5,"values":[0,-10,-20,-30,-40],"title":"Binding energy (meV)","labelExpr":"datum.value < 0 ? '-' + abs(datum.value) : '0'","tickSize":-9,"labelOverlap":false}},
 "color":{"field":"k","type":"nominal","scale":{"domain":["top","ex","emit","gnd","res2s","res2p","bl","rd","bk","mg","br","gr","or","pu","tP","tAs","tSb","tBi","gt","mt"],"range":["#000000","#000000","#ff0000","#0000ff","#ff00ff","#ff00ff","#2020ff","#ff2020","#000000","#ff40ff","#a67b4f","#33ee33","#c9832e","#800080","#cd7b2f","#4f7a26","#c0504d","#ff4422","#3cb44b","#ee44cc"]}},
 "stroke":{"field":"k","type":"nominal","scale":{"domain":["top","ex","emit","gnd","res2s","res2p"],"range":["#000000","#000000","#ff0000","#0000ff","#ff00ff","#ff00ff"]}},
 "strokeWidth":{"field":"k","type":"ordinal","scale":{"domain":["top","ex","emit","gnd","res2s","res2p"],"range":[1,2.2,1.5,2,3,5]}}}},
{"data":{"name":"arrows"},"transform":[{"filter":"datum.p==='Sb' && datum.t==='dn'"}],"mark":{"type":"bar","y2Offset":-18,"fill":{"gradient":"linear","x1":0,"y1":0,"x2":0,"y2":1,"stops":[{"offset":0,"color":"#ff0000"},{"offset":1,"color":"#800000"}]}},
 "encoding":{"x":{"field":"x","type":"quantitative","axis":null},"y":{"field":"y1","type":"quantitative","axis":null},"y2":{"field":"y2"},"size":{"field":"w","type":"ordinal","scale":{"domain":["n","b"],"range":[5,8]}}}},
{"data":{"name":"arrows"},"transform":[{"filter":"datum.p==='Sb' && datum.t==='dn'"}],"mark":{"type":"point","filled":true,"opacity":1,"shape":"M0,0L-0.32,-2L0.32,-2Z","fill":"#7a0000","strokeWidth":0},
 "encoding":{"x":{"field":"x","type":"quantitative","axis":null},"y":{"field":"y2","type":"quantitative","axis":null},"size":{"field":"w","type":"ordinal","scale":{"domain":["n","b"],"range":[1225,1700]}}}},
{"data":{"name":"arrows"},"transform":[{"filter":"datum.p==='Sb' && datum.t==='up'"}],"mark":{"type":"bar","width":5,"y2Offset":30,"fill":{"gradient":"linear","x1":0,"y1":0,"x2":0,"y2":1,"stops":[{"offset":0,"color":"#000080"},{"offset":0.3,"color":"#0000ff"},{"offset":1,"color":"#0000ff"}]}},
 "encoding":{"x":{"field":"x","type":"quantitative","axis":null},"y":{"field":"y1","type":"quantitative","axis":null},"y2":{"field":"y2"}}},
{"data":{"name":"arrows"},"transform":[{"filter":"datum.p==='Sb' && datum.t==='up'"}],"mark":{"type":"point","filled":true,"opacity":1,"shape":"M0,0L-0.17,2L0.17,2Z","fill":"#00007a","strokeWidth":0,"size":3600},
 "encoding":{"x":{"field":"x","type":"quantitative","axis":null},"y":{"field":"y2","type":"quantitative","axis":{"orient":"right","offset":-510,"values":[0,-2,-4,-6,-8,-10,-12,-14,-16,-18,-20,-22,-24,-26,-28,-30,-32,-34,-36,-38,-40,-42,-44],"labels":false,"domain":false,"ticks":true,"tickSize":5,"title":null}}}},
{"data":{"name":"curves"},"transform":[{"filter":"datum.p==='Sb'"}],"mark":{"type":"line","interpolate":"catmull-rom","strokeWidth":2.2},
 "encoding":{"x":{"field":"x","type":"quantitative","axis":null},"y":{"field":"y","type":"quantitative","axis":null},"detail":{"field":"id"},"order":{"field":"i","type":"quantitative"},
 "color":{"field":"k","type":"nominal","scale":{"domain":["top","ex","emit","gnd","res2s","res2p","bl","rd","bk","mg","br","gr","or","pu","tP","tAs","tSb","tBi","gt","mt"],"range":["#000000","#000000","#ff0000","#0000ff","#ff00ff","#ff00ff","#2020ff","#ff2020","#000000","#ff40ff","#a67b4f","#33ee33","#c9832e","#800080","#cd7b2f","#4f7a26","#c0504d","#ff4422","#3cb44b","#ee44cc"]}}}},
{"data":{"name":"curves"},"transform":[{"filter":"datum.p==='Sb' && isValid(datum.a)"}],"mark":{"type":"point","filled":true,"opacity":1,"shape":"M0,0L-0.8,2.2L0,1.5L0.8,2.2Z","size":100,"strokeWidth":0},
 "encoding":{"x":{"field":"x","type":"quantitative","axis":null},"y":{"field":"y","type":"quantitative","axis":null},"angle":{"field":"a","type":"quantitative","scale":{"domain":[0,360],"range":[0,360]}},
 "color":{"field":"k","type":"nominal","scale":{"domain":["top","ex","emit","gnd","res2s","res2p","bl","rd","bk","mg","br","gr","or","pu","tP","tAs","tSb","tBi","gt","mt"],"range":["#000000","#000000","#ff0000","#0000ff","#ff00ff","#ff00ff","#2020ff","#ff2020","#000000","#ff40ff","#a67b4f","#33ee33","#c9832e","#800080","#cd7b2f","#4f7a26","#c0504d","#ff4422","#3cb44b","#ee44cc"]}}}},
{"data":{"name":"labels"},"transform":[{"filter":"datum.p==='Sb' && datum.s==='lab'"}],"mark":{"type":"text","align":"left","baseline":"alphabetic","font":"Liberation Serif","fontSize":23},
 "encoding":{"x":{"field":"x","type":"quantitative","axis":null},"y":{"field":"y","type":"quantitative","axis":null},"text":{"field":"t"},
 "color":{"field":"k","type":"nominal","scale":{"domain":["top","ex","emit","gnd","res2s","res2p","bl","rd","bk","mg","br","gr","or","pu","tP","tAs","tSb","tBi","gt","mt"],"range":["#000000","#000000","#ff0000","#0000ff","#ff00ff","#ff00ff","#2020ff","#ff2020","#000000","#ff40ff","#a67b4f","#33ee33","#c9832e","#800080","#cd7b2f","#4f7a26","#c0504d","#ff4422","#3cb44b","#ee44cc"]}}}},
{"data":{"name":"labels"},"transform":[{"filter":"datum.p==='Sb' && datum.s==='sub'"}],"mark":{"type":"text","align":"left","baseline":"alphabetic","font":"Liberation Serif","fontSize":15},
 "encoding":{"x":{"field":"x","type":"quantitative","axis":null},"y":{"field":"y","type":"quantitative","axis":null},"text":{"field":"t"},
 "color":{"field":"k","type":"nominal","scale":{"domain":["top","ex","emit","gnd","res2s","res2p","bl","rd","bk","mg","br","gr","or","pu","tP","tAs","tSb","tBi","gt","mt"],"range":["#000000","#000000","#ff0000","#0000ff","#ff00ff","#ff00ff","#2020ff","#ff2020","#000000","#ff40ff","#a67b4f","#33ee33","#c9832e","#800080","#cd7b2f","#4f7a26","#c0504d","#ff4422","#3cb44b","#ee44cc"]}}}},
{"data":{"name":"labels"},"transform":[{"filter":"datum.p==='Sb' && datum.s==='bold'"}],"mark":{"type":"text","align":"left","baseline":"alphabetic","font":"Liberation Serif","fontSize":23,"fontWeight":"bold","fontStyle":"italic"},
 "encoding":{"x":{"field":"x","type":"quantitative","axis":null},"y":{"field":"y","type":"quantitative","axis":null},"text":{"field":"t"},
 "color":{"field":"k","type":"nominal","scale":{"domain":["top","ex","emit","gnd","res2s","res2p","bl","rd","bk","mg","br","gr","or","pu","tP","tAs","tSb","tBi","gt","mt"],"range":["#000000","#000000","#ff0000","#0000ff","#ff00ff","#ff00ff","#2020ff","#ff2020","#000000","#ff40ff","#a67b4f","#33ee33","#c9832e","#800080","#cd7b2f","#4f7a26","#c0504d","#ff4422","#3cb44b","#ee44cc"]}}}},
{"data":{"name":"labels"},"transform":[{"filter":"datum.p==='Sb' && datum.s==='title'"}],"mark":{"type":"text","align":"left","baseline":"alphabetic","font":"Liberation Serif","fontSize":29},
 "encoding":{"x":{"field":"x","type":"quantitative","axis":null},"y":{"field":"y","type":"quantitative","axis":null},"text":{"field":"t"},
 "color":{"field":"k","type":"nominal","scale":{"domain":["top","ex","emit","gnd","res2s","res2p","bl","rd","bk","mg","br","gr","or","pu","tP","tAs","tSb","tBi","gt","mt"],"range":["#000000","#000000","#ff0000","#0000ff","#ff00ff","#ff00ff","#2020ff","#ff2020","#000000","#ff40ff","#a67b4f","#33ee33","#c9832e","#800080","#cd7b2f","#4f7a26","#c0504d","#ff4422","#3cb44b","#ee44cc"]}}}},
{"data":{"name":"labels"},"transform":[{"filter":"datum.p==='Sb' && datum.s==='sans'"}],"mark":{"type":"text","align":"center","baseline":"alphabetic","font":"Open Sans","fontSize":23.8,"color":"#000000"},
 "encoding":{"x":{"field":"x","type":"quantitative","axis":null},"y":{"field":"y","type":"quantitative","axis":null},"text":{"field":"t"}}}
]},
{"width":529,"height":380,"resolve":{"scale":{"size":"independent"},"axis":{"y":"independent"}},"layer":[
{"data":{"name":"levels"},"transform":[{"filter":"datum.p==='Bi'"},{"flatten":["c"]}],"mark":{"type":"tick","orient":"horizontal","size":59,"thickness":1,"opacity":1},
 "encoding":{"x":{"field":"c","type":"quantitative","scale":{"domain":[0.29,5.72],"nice":false,"zero":false},"axis":null},
 "y":{"field":"e","type":"quantitative","scale":{"domain":[-77,0.8],"nice":false,"zero":false},"axis":{"values":[0,-10,-20,-30,-40,-50,-60,-70],"title":"Binding energy (meV)","labelExpr":"datum.value < 0 ? '-' + abs(datum.value) : '0'","tickSize":-9,"labelOverlap":false}},
 "color":{"field":"k","type":"nominal","scale":{"domain":["top","ex","emit","gnd","res2s","res2p","bl","rd","bk","mg","br","gr","or","pu","tP","tAs","tSb","tBi","gt","mt"],"range":["#000000","#000000","#ff0000","#0000ff","#ff00ff","#ff00ff","#2020ff","#ff2020","#000000","#ff40ff","#a67b4f","#33ee33","#c9832e","#800080","#cd7b2f","#4f7a26","#c0504d","#ff4422","#3cb44b","#ee44cc"]}},
 "stroke":{"field":"k","type":"nominal","scale":{"domain":["top","ex","emit","gnd","res2s","res2p"],"range":["#000000","#000000","#ff0000","#0000ff","#ff00ff","#ff00ff"]}},
 "strokeWidth":{"field":"k","type":"ordinal","scale":{"domain":["top","ex","emit","gnd","res2s","res2p"],"range":[1,2.2,1.5,2,3,5]}}}},
{"data":{"name":"arrows"},"transform":[{"filter":"datum.p==='Bi' && datum.t==='mg'"}],"mark":{"type":"rule","strokeWidth":2,"color":"#ff00ff"},
 "encoding":{"x":{"field":"x","type":"quantitative","axis":null},"y":{"field":"y1","type":"quantitative","axis":null},"y2":{"field":"y2"}}},
{"data":{"name":"arrows"},"transform":[{"filter":"datum.p==='Bi' && datum.t==='mg'"}],"mark":{"type":"point","filled":true,"opacity":1,"shape":"M0,0L-0.9,-2L0,-1.3L0.9,-2Z","fill":"#ff00ff","strokeWidth":0,"size":64},
 "encoding":{"x":{"field":"x","type":"quantitative","axis":null},"y":{"field":"y2","type":"quantitative","axis":null}}},
{"data":{"name":"arrows"},"transform":[{"filter":"datum.p==='Bi' && datum.t==='dn'"}],"mark":{"type":"bar","y2Offset":-18,"fill":{"gradient":"linear","x1":0,"y1":0,"x2":0,"y2":1,"stops":[{"offset":0,"color":"#ff0000"},{"offset":1,"color":"#800000"}]}},
 "encoding":{"x":{"field":"x","type":"quantitative","axis":null},"y":{"field":"y1","type":"quantitative","axis":null},"y2":{"field":"y2"},"size":{"field":"w","type":"ordinal","scale":{"domain":["n","b"],"range":[5,8]}}}},
{"data":{"name":"arrows"},"transform":[{"filter":"datum.p==='Bi' && datum.t==='dn'"}],"mark":{"type":"point","filled":true,"opacity":1,"shape":"M0,0L-0.32,-2L0.32,-2Z","fill":"#7a0000","strokeWidth":0},
 "encoding":{"x":{"field":"x","type":"quantitative","axis":null},"y":{"field":"y2","type":"quantitative","axis":null},"size":{"field":"w","type":"ordinal","scale":{"domain":["n","b"],"range":[1000,1300]}}}},
{"data":{"name":"arrows"},"transform":[{"filter":"datum.p==='Bi' && datum.t==='up'"}],"mark":{"type":"bar","width":5,"y2Offset":30,"fill":{"gradient":"linear","x1":0,"y1":0,"x2":0,"y2":1,"stops":[{"offset":0,"color":"#000080"},{"offset":0.3,"color":"#0000ff"},{"offset":1,"color":"#0000ff"}]}},
 "encoding":{"x":{"field":"x","type":"quantitative","axis":null},"y":{"field":"y1","type":"quantitative","axis":null},"y2":{"field":"y2"}}},
{"data":{"name":"arrows"},"transform":[{"filter":"datum.p==='Bi' && datum.t==='up'"}],"mark":{"type":"point","filled":true,"opacity":1,"shape":"M0,0L-0.17,2L0.17,2Z","fill":"#00007a","strokeWidth":0,"size":3600},
 "encoding":{"x":{"field":"x","type":"quantitative","axis":null},"y":{"field":"y2","type":"quantitative","axis":{"orient":"right","offset":-529,"values":[0,-2,-4,-6,-8,-10,-12,-14,-16,-18,-20,-22,-24,-26,-28,-30,-32,-34,-36,-38,-40,-42,-44,-46,-48,-50,-52,-54,-56,-58,-60,-62,-64,-66,-68,-70,-72,-74,-76],"labels":false,"domain":false,"ticks":true,"tickSize":5,"title":null}}}},
{"data":{"name":"curves"},"transform":[{"filter":"datum.p==='Bi'"}],"mark":{"type":"line","interpolate":"catmull-rom","strokeWidth":2.2},
 "encoding":{"x":{"field":"x","type":"quantitative","axis":null},"y":{"field":"y","type":"quantitative","axis":null},"detail":{"field":"id"},"order":{"field":"i","type":"quantitative"},
 "color":{"field":"k","type":"nominal","scale":{"domain":["top","ex","emit","gnd","res2s","res2p","bl","rd","bk","mg","br","gr","or","pu","tP","tAs","tSb","tBi","gt","mt"],"range":["#000000","#000000","#ff0000","#0000ff","#ff00ff","#ff00ff","#2020ff","#ff2020","#000000","#ff40ff","#a67b4f","#33ee33","#c9832e","#800080","#cd7b2f","#4f7a26","#c0504d","#ff4422","#3cb44b","#ee44cc"]}}}},
{"data":{"name":"curves"},"transform":[{"filter":"datum.p==='Bi' && isValid(datum.a)"}],"mark":{"type":"point","filled":true,"opacity":1,"shape":"M0,0L-0.8,2.2L0,1.5L0.8,2.2Z","size":100,"strokeWidth":0},
 "encoding":{"x":{"field":"x","type":"quantitative","axis":null},"y":{"field":"y","type":"quantitative","axis":null},"angle":{"field":"a","type":"quantitative","scale":{"domain":[0,360],"range":[0,360]}},
 "color":{"field":"k","type":"nominal","scale":{"domain":["top","ex","emit","gnd","res2s","res2p","bl","rd","bk","mg","br","gr","or","pu","tP","tAs","tSb","tBi","gt","mt"],"range":["#000000","#000000","#ff0000","#0000ff","#ff00ff","#ff00ff","#2020ff","#ff2020","#000000","#ff40ff","#a67b4f","#33ee33","#c9832e","#800080","#cd7b2f","#4f7a26","#c0504d","#ff4422","#3cb44b","#ee44cc"]}}}},
{"data":{"name":"labels"},"transform":[{"filter":"datum.p==='Bi' && datum.s==='lab'"}],"mark":{"type":"text","align":"left","baseline":"alphabetic","font":"Liberation Serif","fontSize":23},
 "encoding":{"x":{"field":"x","type":"quantitative","axis":null},"y":{"field":"y","type":"quantitative","axis":null},"text":{"field":"t"},
 "color":{"field":"k","type":"nominal","scale":{"domain":["top","ex","emit","gnd","res2s","res2p","bl","rd","bk","mg","br","gr","or","pu","tP","tAs","tSb","tBi","gt","mt"],"range":["#000000","#000000","#ff0000","#0000ff","#ff00ff","#ff00ff","#2020ff","#ff2020","#000000","#ff40ff","#a67b4f","#33ee33","#c9832e","#800080","#cd7b2f","#4f7a26","#c0504d","#ff4422","#3cb44b","#ee44cc"]}}}},
{"data":{"name":"labels"},"transform":[{"filter":"datum.p==='Bi' && datum.s==='sub'"}],"mark":{"type":"text","align":"left","baseline":"alphabetic","font":"Liberation Serif","fontSize":15},
 "encoding":{"x":{"field":"x","type":"quantitative","axis":null},"y":{"field":"y","type":"quantitative","axis":null},"text":{"field":"t"},
 "color":{"field":"k","type":"nominal","scale":{"domain":["top","ex","emit","gnd","res2s","res2p","bl","rd","bk","mg","br","gr","or","pu","tP","tAs","tSb","tBi","gt","mt"],"range":["#000000","#000000","#ff0000","#0000ff","#ff00ff","#ff00ff","#2020ff","#ff2020","#000000","#ff40ff","#a67b4f","#33ee33","#c9832e","#800080","#cd7b2f","#4f7a26","#c0504d","#ff4422","#3cb44b","#ee44cc"]}}}},
{"data":{"name":"labels"},"transform":[{"filter":"datum.p==='Bi' && datum.s==='bold'"}],"mark":{"type":"text","align":"left","baseline":"alphabetic","font":"Liberation Serif","fontSize":23,"fontWeight":"bold"},
 "encoding":{"x":{"field":"x","type":"quantitative","axis":null},"y":{"field":"y","type":"quantitative","axis":null},"text":{"field":"t"},
 "color":{"field":"k","type":"nominal","scale":{"domain":["top","ex","emit","gnd","res2s","res2p","bl","rd","bk","mg","br","gr","or","pu","tP","tAs","tSb","tBi","gt","mt"],"range":["#000000","#000000","#ff0000","#0000ff","#ff00ff","#ff00ff","#2020ff","#ff2020","#000000","#ff40ff","#a67b4f","#33ee33","#c9832e","#800080","#cd7b2f","#4f7a26","#c0504d","#ff4422","#3cb44b","#ee44cc"]}}}},
{"data":{"name":"labels"},"transform":[{"filter":"datum.p==='Bi' && datum.s==='title'"}],"mark":{"type":"text","align":"left","baseline":"alphabetic","font":"Liberation Serif","fontSize":29},
 "encoding":{"x":{"field":"x","type":"quantitative","axis":null},"y":{"field":"y","type":"quantitative","axis":null},"text":{"field":"t"},
 "color":{"field":"k","type":"nominal","scale":{"domain":["top","ex","emit","gnd","res2s","res2p","bl","rd","bk","mg","br","gr","or","pu","tP","tAs","tSb","tBi","gt","mt"],"range":["#000000","#000000","#ff0000","#0000ff","#ff00ff","#ff00ff","#2020ff","#ff2020","#000000","#ff40ff","#a67b4f","#33ee33","#c9832e","#800080","#cd7b2f","#4f7a26","#c0504d","#ff4422","#3cb44b","#ee44cc"]}}}},
{"data":{"name":"labels"},"transform":[{"filter":"datum.p==='Bi' && datum.s==='sans'"}],"mark":{"type":"text","align":"center","baseline":"alphabetic","font":"Open Sans","fontSize":23.8,"color":"#000000"},
 "encoding":{"x":{"field":"x","type":"quantitative","axis":null},"y":{"field":"y","type":"quantitative","axis":null},"text":{"field":"t"}}}
]}
]
}
